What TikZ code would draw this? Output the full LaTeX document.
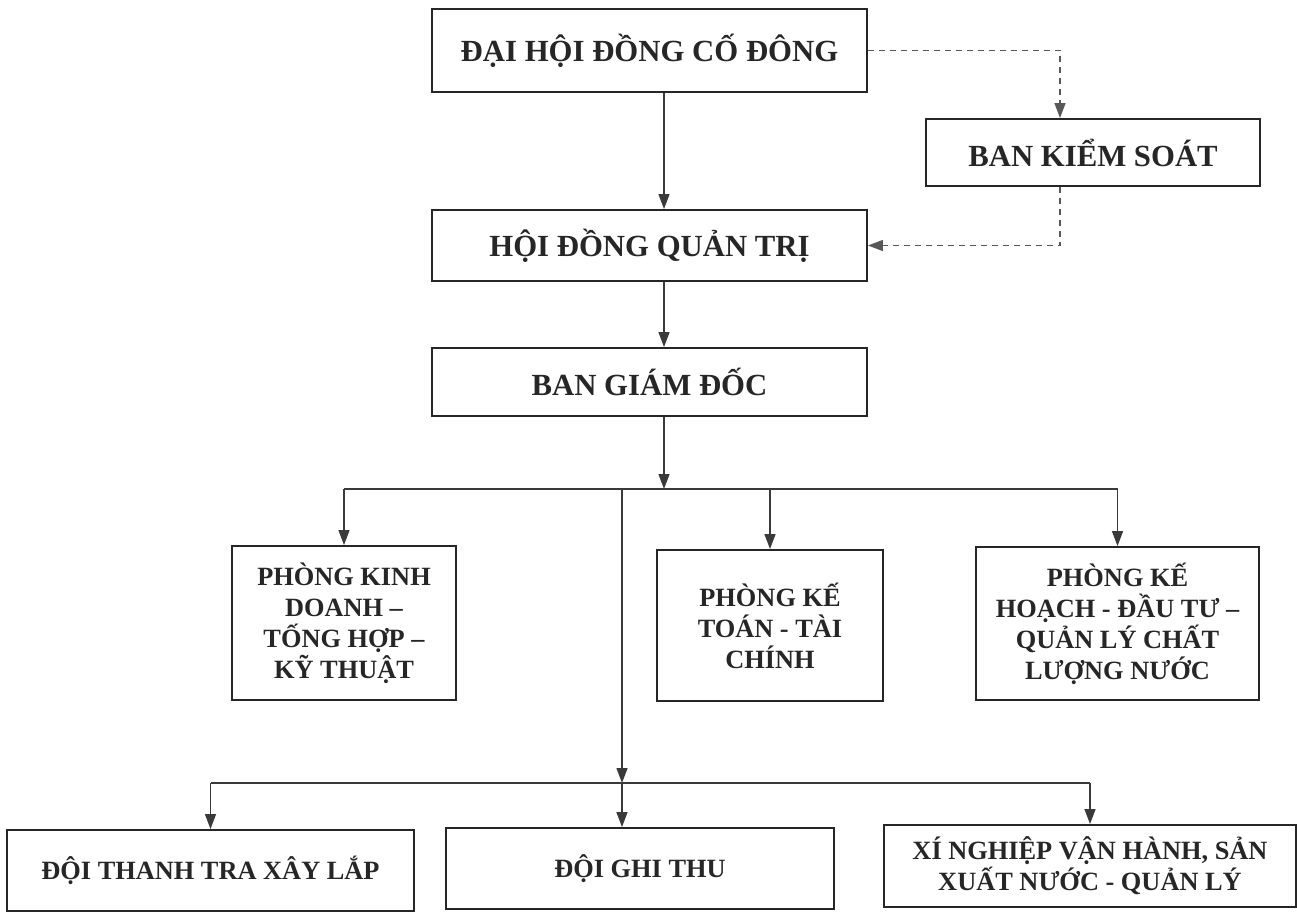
\documentclass[tikz,border=0pt]{standalone}
\usepackage{fontspec}
\setmainfont{Liberation Serif}
\usetikzlibrary{arrows.meta}

\definecolor{ink}{HTML}{262626}
\definecolor{wire}{HTML}{3A3A3A}

\tikzset{box/.style={draw=ink, line width=1.1pt, rectangle, inner sep=0pt, align=center, text=ink}}

\begin{document}
\begin{tikzpicture}[x=0.02cm, y=-0.02cm,
		big/.style={box, font=\fontsize{17.5}{20}\selectfont\bfseries},
		small/.style={box, font=\fontsize{15}{17.6}\selectfont\bfseries},
		arr/.style={draw=wire, line width=0.8pt, -{Triangle[length=0.3cm, width=0.22cm]}},
		dasharr/.style={arr, draw=wire!85, dash pattern=on 0.12cm off 0.1cm}]
			\useasboundingbox (0,0) rectangle (1297,915);
			
			\node[big, minimum width=8.7cm, minimum height=1.66cm] (DH) at (649.5,50.5) {ĐẠI HỘI ĐỒNG CỐ ĐÔNG};
			\node[big, minimum width=6.68cm, minimum height=1.34cm] (BKS) at (1093,152.5) {BAN KIỂM SOÁT};
			\node[big, minimum width=8.7cm, minimum height=1.42cm] (HD) at (649.5,245.5) {HỘI ĐỒNG QUẢN TRỊ};
			\node[big, minimum width=8.7cm, minimum height=1.36cm] (BGD) at (649.5,382) {BAN GIÁM ĐỐC};
			
			\node[small, minimum width=4.48cm, minimum height=3.08cm] (PKD) at (344,623) {PHÒNG KINH\\DOANH –\\TỐNG HỢP –\\KỸ THUẬT};
			\node[small, minimum width=4.52cm, minimum height=3.02cm] (PKT) at (770,625.5) {PHÒNG KẾ\\TOÁN - TÀI\\CHÍNH};
			\node[small, minimum width=5.66cm, minimum height=3.06cm] (PKH) at (1117.5,623.5) {PHÒNG KẾ\\HOẠCH - ĐẦU TƯ –\\QUẢN LÝ CHẤT\\LƯỢNG NƯỚC};
			
			\node[small, minimum width=8.14cm, minimum height=1.62cm] (DTT) at (210.5,870.5) {ĐỘI THANH TRA XÂY LẮP};
			\node[small, minimum width=7.76cm, minimum height=1.62cm] (DGT) at (640,868.5) {ĐỘI GHI THU};
			\node[small, minimum width=8.24cm, minimum height=1.64cm] (XN) at (1090,866) {XÍ NGHIỆP VẬN HÀNH, SẢN\\XUẤT NƯỚC - QUẢN LÝ};
			
			\coordinate (J1) at (664,489);
			\coordinate (J2) at (622,783);
			\coordinate (K) at (1060,243);
			
			% chain down the middle
			\draw[arr] (DH.south -| J1) -- (HD.north -| J1);
			\draw[arr] (HD.south -| J1) -- (BGD.north -| J1);
			\draw[arr] (BGD.south -| J1) -- (J1);
			
			% control board
			\draw[dasharr] (DH.east) -| (BKS.north -| K);
			\draw[dasharr] (BKS.south -| K) |- (HD.east);
			
			% departments
			\draw[draw=wire, line width=0.8pt] (PKD.north |- J1) -- (PKH.north |- J1);
			\draw[arr] (PKD.north |- J1) -- (PKD.north);
			\draw[arr] (PKT.north |- J1) -- (PKT.north);
			\draw[arr] (PKH.north |- J1) -- (PKH.north);
			
			% teams
			\draw[arr] (J2 |- J1) -- (J2);
			\draw[draw=wire, line width=0.8pt] (DTT.north |- J2) -- (XN.north |- J2);
			\draw[arr] (DTT.north |- J2) -- (DTT.north);
			\draw[arr] (J2) -- (DGT.north -| J2);
			\draw[arr] (XN.north |- J2) -- (XN.north);
		\end{tikzpicture}
\end{document}
